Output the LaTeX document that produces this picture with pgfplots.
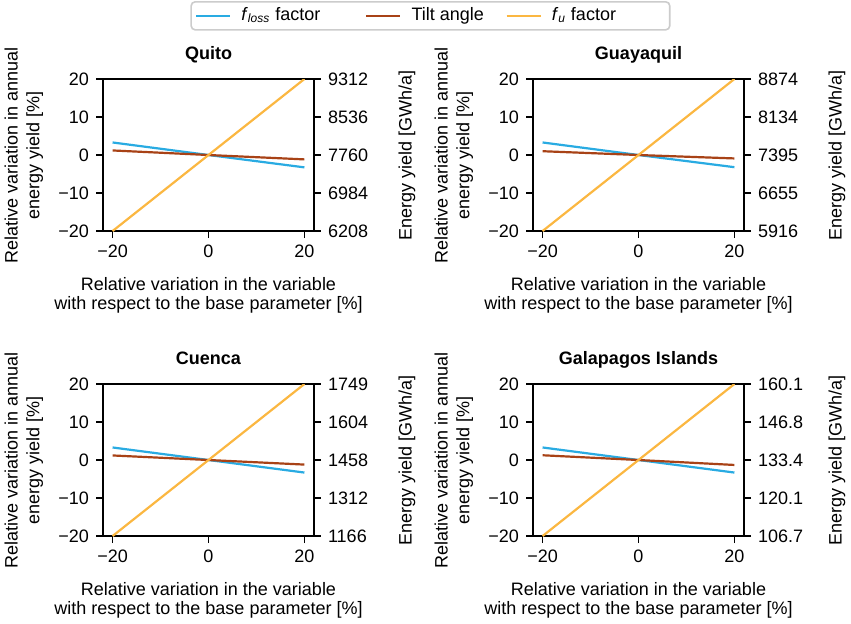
\documentclass[border=0pt]{standalone}
\usepackage{fontspec}
\setmainfont{Liberation Sans}
\usepackage{pgfplots}
\pgfplotsset{compat=1.18}
\definecolor{cblue}{RGB}{41,171,226}
\definecolor{cbrown}{RGB}{168,66,22}
\definecolor{corange}{RGB}{251,183,65}
\newcommand{\fs}{\fontsize{9}{10.8}\selectfont}
\pgfplotsset{
  base/.style={
    scale only axis, width=105.5pt, height=76pt, anchor=north west,
    xmin=-22, xmax=22, ymin=-20, ymax=20,
    xtick={-20,0,20}, xticklabels={−20,0,20},
    ytick={-20,-10,0,10,20}, yticklabels={−20,−10,0,10,20},
    tick align=outside, major tick length=3.5pt,
    xtick pos=bottom, ytick pos=left,
    axis line style={line width=0.9pt},
    every tick/.style={black, line width=0.9pt},
    tick label style={font=\fs},
    label style={font=\fs},
    title style={font=\fs\bfseries, at={(axis description cs:0.5,1)}, anchor=base, yshift=4pt},
    xlabel={Relative variation in the variable\\with respect to the base parameter [\%]},
    xlabel style={font=\fontsize{9}{9.6}\selectfont, align=center, at={(axis description cs:0.5,0)}, anchor=north, yshift=-19.5pt},
    ylabel={Relative variation in annual\\energy yield [\%]},
    ylabel style={align=center, at={(axis description cs:-0.375,0.5)}, anchor=center},
    every axis plot/.append style={line width=1.1pt, no marks},
  },
  rt/.style={
    scale only axis, width=105.5pt, height=76pt, anchor=north west,
    xmin=-22, xmax=22, ymin=-20, ymax=20,
    axis x line=none, axis y line*=right,
    ytick={-20,-10,0,10,20}, yticklabels={#1},
    tick align=outside, major tick length=3.5pt,
    axis line style={line width=0.9pt},
    every tick/.style={black, line width=0.9pt},
    tick label style={font=\fs},
    label style={font=\fs},
    ylabel={Energy yield [GWh/a]},
    ylabel style={at={(axis description cs:1.441,0.5)}, anchor=center},
  },
}
\begin{document}
\begin{tikzpicture}
\useasboundingbox (0,0) rectangle (425.5pt,-311.5pt);
% Quito
\begin{axis}[base, at={(51.5pt,-39.5pt)}, title={Quito},
  legend columns=3,
  legend style={at={(axis description cs:1.552,1.513)}, anchor=north, draw=black!20, rounded corners=2pt, line width=0.8pt,
    inner xsep=2pt, inner ysep=2.5pt, font=\fs,
    nodes={inner sep=0pt, text height=6.8pt, text depth=2.2pt},
    /tikz/every odd column/.style={column sep=5pt}},
  legend image code/.code={\draw[#1, line width=1.1pt, rounded corners=0pt] (0pt,0pt) -- (17pt,0pt);}]
\addplot[cblue] coordinates {(-20,3.3) (0,0) (20,-3.25)};
\addlegendentry{\makebox[62pt][l]{\textit{f}\textsubscript{\textit{loss}} factor}}
\addplot[cbrown] coordinates {(-20,1.2) (0,0) (20,-1.15)};
\addlegendentry{\makebox[47pt][l]{Tilt angle}}
\addplot[corange] coordinates {(-20,-20) (0,0) (20,20)};
\addlegendentry{\makebox[57pt][l]{\textit{f}\textsubscript{\textit{u}} factor}}
\end{axis}
\begin{axis}[rt={6208,6984,7760,8536,9312}, at={(51.5pt,-39.5pt)}]
\end{axis}
% Guayaquil
\begin{axis}[base, at={(266.5pt,-39.5pt)}, title={Guayaquil}]
\addplot[cblue] coordinates {(-20,3.3) (0,0) (20,-3.2)};
\addplot[cbrown] coordinates {(-20,1.0) (0,0) (20,-0.9)};
\addplot[corange] coordinates {(-20,-20) (0,0) (20,20)};
\end{axis}
\begin{axis}[rt={5916,6655,7395,8134,8874}, at={(266.5pt,-39.5pt)}]
\end{axis}
% Cuenca
\begin{axis}[base, at={(51.5pt,-192pt)}, title={Cuenca}]
\addplot[cblue] coordinates {(-20,3.3) (0,0) (20,-3.3)};
\addplot[cbrown] coordinates {(-20,1.2) (0,0) (20,-1.2)};
\addplot[corange] coordinates {(-20,-20) (0,0) (20,20)};
\end{axis}
\begin{axis}[rt={1166,1312,1458,1604,1749}, at={(51.5pt,-192pt)}]
\end{axis}
% Galapagos
\begin{axis}[base, at={(266.5pt,-192pt)}, title={Galapagos Islands}]
\addplot[cblue] coordinates {(-20,3.3) (0,0) (20,-3.3)};
\addplot[cbrown] coordinates {(-20,1.25) (0,0) (20,-1.3)};
\addplot[corange] coordinates {(-20,-20) (0,0) (20,20)};
\end{axis}
\begin{axis}[rt={106.7,120.1,133.4,146.8,160.1}, at={(266.5pt,-192pt)}]
\end{axis}
\end{tikzpicture}
\end{document}
